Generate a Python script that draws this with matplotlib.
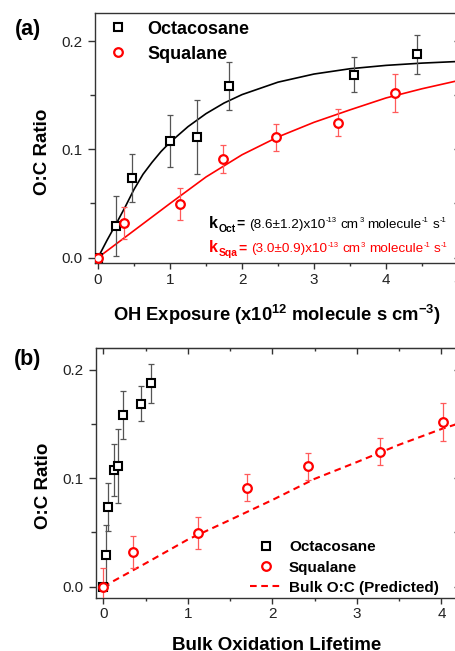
import matplotlib
matplotlib.use('Agg')
import matplotlib.pyplot as plt
from matplotlib.ticker import MultipleLocator, NullFormatter, FormatStrFormatter
from matplotlib.transforms import IdentityTransform

plt.rcParams['font.family'] = ['Liberation Sans', 'DejaVu Sans']
plt.rcParams['mathtext.default'] = 'regular'

# ---------------- data ----------------
oct_exposure = [0.0, 0.25, 0.47, 1.00, 1.37, 1.815, 3.55, 4.43]
oct_oc = [0.0, 0.0293, 0.0735, 0.108, 0.1115, 0.1587, 0.1689, 0.1877]
oct_err = [0.0, 0.028, 0.022, 0.024, 0.034, 0.022, 0.016, 0.018]
oct_lifetime = [0.0, 0.032, 0.059, 0.13, 0.17, 0.23, 0.446, 0.564]

sqa_exposure = [0.0, 0.36, 1.14, 1.74, 2.47, 3.34, 4.12]
sqa_oc = [0.0, 0.0318, 0.0494, 0.0911, 0.111, 0.1247, 0.1519]
sqa_err_a = [0.0, 0.015, 0.0145, 0.0125, 0.0127, 0.0125, 0.0175]
sqa_err_b = [0.017, 0.015, 0.0145, 0.0125, 0.0127, 0.0125, 0.0175]
sqa_lifetime = [0.0, 0.351, 1.119, 1.695, 2.423, 3.274, 4.019]

oct_fit_x = [0, 0.125, 0.25, 0.375, 0.5, 0.625, 0.75, 0.875, 1.0, 1.25, 1.5, 1.75,
             2.0, 2.5, 3.0, 3.5, 4.0, 4.5, 5.0]
oct_fit = [0, 0.016, 0.031, 0.0465, 0.063, 0.077, 0.088, 0.098, 0.1065, 0.121, 0.133,
           0.1428, 0.1506, 0.1621, 0.1696, 0.1745, 0.1776, 0.1797, 0.1812]
sqa_fit_x = [0, 0.5, 1.0, 1.5, 2.0, 2.5, 3.0, 3.5, 4.0, 4.5, 5.0]
sqa_fit = [0, 0.025, 0.050, 0.0745, 0.095, 0.1115, 0.125, 0.1365, 0.1475, 0.156, 0.1635]

pred_lifetime = [0, 0.5, 1, 1.5, 2, 2.5, 3, 3.5, 4, 4.3]
pred_oc = [0, 0.0215, 0.0435, 0.0616, 0.080, 0.0995, 0.115, 0.131, 0.1455, 0.153]

series_names = ['Octacosane', 'Squalane', 'Bulk O:C (Predicted)']
k_oct_value = '(8.6\u00b11.2)x10'
k_sqa_value = '(3.0\u00b10.9)x10'

# ---------------- style ----------------
RED = '#ff0000'
SPINE = '#333333'
W, H = 456, 651

fig = plt.figure(figsize=(W / 100, H / 100), dpi=100)


def rect(l, t, r, b):
    return [l / W, 1 - b / H, (r - l) / W, (b - t) / H]


ax1 = fig.add_axes(rect(95, 13, 458, 263))
ax2 = fig.add_axes(rect(95.7, 348.3, 457.5, 597.7))

sq_kw = dict(ls='none', marker='s', ms=5.4, mew=1.5, mec='black', mfc='white', zorder=5)
ci_kw = dict(ls='none', marker='o', ms=6.2, mew=1.6, mec=RED, mfc='white', zorder=5)
eb_k = dict(fmt='none', ecolor='#555555', elinewidth=0.9, capsize=2.5, capthick=0.9, zorder=3)
eb_r = dict(fmt='none', ecolor='#ff5a5a', elinewidth=0.9, capsize=2.5, capthick=0.9, zorder=3)


def style_axes(ax, ylim, xlim, top_ticks):
    ax.set_xlim(*xlim)
    ax.set_ylim(*ylim)
    for s in ax.spines.values():
        s.set_color(SPINE)
        s.set_linewidth(1.0)
    ax.xaxis.set_major_locator(MultipleLocator(1))
    ax.xaxis.set_minor_locator(MultipleLocator(0.5))
    ax.yaxis.set_major_locator(MultipleLocator(0.1))
    ax.yaxis.set_minor_locator(MultipleLocator(0.05))
    ax.xaxis.set_major_formatter(FormatStrFormatter('%d'))
    ax.yaxis.set_major_formatter(FormatStrFormatter('%.1f'))
    ax.tick_params(axis='x', which='major', direction='out', length=4, width=1.0,
                   color=SPINE, labelsize=11, labelcolor='#222222', pad=3, top=False)
    ax.tick_params(axis='x', which='minor', direction='out', length=2.2, width=1.0,
                   color=SPINE, top=False)
    ax.tick_params(axis='y', which='major', direction='out', length=5, width=1.0,
                   color=SPINE, labelsize=11, labelcolor='#222222', pad=4, right=False)
    ax.tick_params(axis='y', which='minor', direction='out', length=3.5, width=1.0,
                   color=SPINE, right=False)
    sec = ax.secondary_yaxis('right')
    sec.yaxis.set_major_locator(MultipleLocator(0.1))
    sec.yaxis.set_minor_locator(MultipleLocator(0.05))
    sec.yaxis.set_major_formatter(NullFormatter())
    sec.tick_params(axis='y', which='both', direction='in', length=3, width=1.0, color=SPINE)
    sec.spines['right'].set_color(SPINE)
    if top_ticks:
        sect = ax.secondary_xaxis('top')
        sect.xaxis.set_major_locator(MultipleLocator(1))
        sect.xaxis.set_minor_locator(MultipleLocator(0.5))
        sect.xaxis.set_major_formatter(NullFormatter())
        sect.tick_params(axis='x', which='major', direction='in', length=4, width=1.0, color=SPINE)
        sect.tick_params(axis='x', which='minor', direction='in', length=2.2, width=1.0, color=SPINE)
        sect.spines['top'].set_color(SPINE)


# ---------------- panel (a) ----------------
style_axes(ax1, (-0.005, 0.226), (-0.042, 5.0), False)
ax1.plot(oct_fit_x, oct_fit, color='black', lw=1.2, zorder=2)
ax1.plot(sqa_fit_x, sqa_fit, color=RED, lw=1.2, zorder=2)
ax1.errorbar(oct_exposure, oct_oc, yerr=oct_err, **eb_k)
ax1.errorbar(sqa_exposure, sqa_oc, yerr=sqa_err_a, **eb_r)
h_oct, = ax1.plot(oct_exposure, oct_oc, **sq_kw)
h_sqa, = ax1.plot(sqa_exposure, sqa_oc, **ci_kw)

ax1.legend([h_oct, h_sqa], series_names[:2], loc='upper left',
           bbox_to_anchor=(0.014, 0.97), frameon=False, borderpad=0,
           borderaxespad=0, handletextpad=0.6, handlelength=2.0,
           labelspacing=0.46, prop=dict(size=13, weight='bold'))

ax1.set_ylabel('O:C Ratio', fontsize=13.5, fontweight='bold')
ax1.yaxis.set_label_coords(-0.121, 0.445)
ax1.set_xlabel('OH Exposure (x10$^{12}$ molecule s cm$^{-3}$)', fontsize=13.2, fontweight='bold')
ax1.xaxis.set_label_coords(0.5, -0.16)

# rate constant annotations, built from pieces placed in pixel coordinates
renderer = fig.canvas.get_renderer()


def place_pieces(x_px, baseline_from_top, pieces, color):
    x = x_px
    y = H - baseline_from_top
    for s, size, weight, dy, gap in pieces:
        x += gap
        t = fig.text(x, y + dy, s, transform=IdentityTransform(), fontsize=size,
                     fontweight=weight, color=color, ha='left', va='baseline')
        x = t.get_window_extent(renderer).x1


def k_pieces(sub, value):
    return [('k', 11.5, 'bold', 0, 0),
            (sub, 7.5, 'bold', -4, 0.5),
            ('=', 10, 'bold', 0, 0.5),
            (value, 9.7, 'normal', 0, 4.5),
            ('-13', 5.5, 'normal', 5.5, 0.5),
            ('cm', 9.7, 'normal', 0, 3.7),
            ('3', 5.5, 'normal', 5.5, 0.5),
            ('molecule', 9.7, 'normal', 0, 3.7),
            ('-1', 5.5, 'normal', 5.5, 0.5),
            ('s', 9.7, 'normal', 0, 3.7),
            ('-1', 5.5, 'normal', 5.5, 0.5)]


place_pieces(209.3, 227.7, k_pieces('Oct', k_oct_value), 'black')
place_pieces(209.3, 252.3, k_pieces('Sqa', k_sqa_value), RED)

# ---------------- panel (b) ----------------
style_axes(ax2, (-0.0102, 0.22), (-0.09, 4.19), True)
h_pred, = ax2.plot(pred_lifetime, pred_oc, color=RED, lw=1.5, ls=(0, (3.2, 2.2)), zorder=2)
ax2.errorbar(oct_lifetime, oct_oc, yerr=oct_err, **eb_k)
ax2.errorbar(sqa_lifetime, sqa_oc, yerr=sqa_err_b, **eb_r)
h2_oct, = ax2.plot(oct_lifetime, oct_oc, **sq_kw)
h2_sqa, = ax2.plot(sqa_lifetime, sqa_oc, **ci_kw)

ax2.legend([h2_oct, h2_sqa, h_pred], series_names, loc='lower left',
           bbox_to_anchor=(0.4265, 0.012), frameon=False, borderpad=0,
           borderaxespad=0, handletextpad=0.45, handlelength=2.1,
           labelspacing=0.4, prop=dict(size=11, weight='bold'))

ax2.set_ylabel('O:C Ratio', fontsize=13.5, fontweight='bold')
ax2.yaxis.set_label_coords(-0.1216, 0.448)
ax2.set_xlabel('Bulk Oxidation Lifetime', fontsize=13.5, fontweight='bold')
ax2.xaxis.set_label_coords(0.501, -0.158)

# panel labels
fig.text(28 / W, 1 - 30 / H, '(a)', fontsize=15.5, fontweight='bold', ha='center', va='center')
fig.text(28 / W, 1 - 359 / H, '(b)', fontsize=15.5, fontweight='bold', ha='center', va='center')

fig.savefig('out.png', dpi=100)
